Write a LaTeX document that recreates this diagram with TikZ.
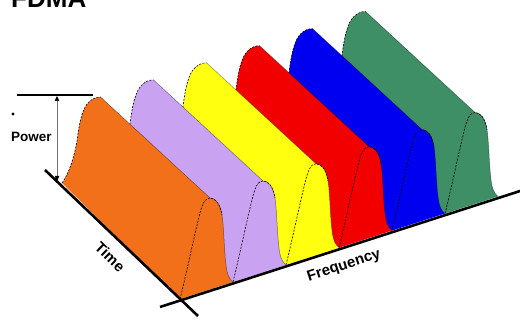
\documentclass[tikz,border=0pt]{standalone}
\usepackage{fontspec}
\setmainfont{Liberation Sans}
\usetikzlibrary{arrows.meta}
\definecolor{cOrange}{HTML}{F2701A}
\definecolor{cPurple}{HTML}{C9A2F2}
\definecolor{cYellow}{HTML}{FFFF10}
\definecolor{cRed}{HTML}{F20000}
\definecolor{cBlue}{HTML}{0000F0}
\definecolor{cGreen}{HTML}{3E8E66}
\tikzset{
  axisline/.style={line width=2.6pt, black},
  bandfill/.style={fill=#1},
  edgeline/.style={draw=black, draw opacity=0.45, line width=0.5pt},
  dashline/.style={draw=black, line width=0.6pt, dash pattern=on 2pt off 1.4pt},
  lbl/.style={inner sep=0pt, font=\bfseries\fontsize{15}{15}\selectfont}
}
% pieces of one band, local coordinates (front base-left at origin, y downwards)
\newcommand\fdmaBackLeft{(-118,-116) .. controls (-112,-124) and (-106,-140) .. (-103,-158) .. controls (-101,-174) and (-98,-191) .. (-91,-197) .. controls (-88,-200) and (-84,-202) .. (-79.5,-202)}
\newcommand\fdmaFrontLeft{(0,0) .. controls (4,-15) and (14,-62) .. (19,-82) .. controls (22,-95) and (25,-101) .. (30,-101)}
\newcommand\fdmaFrontRightTail{.. controls (35,-101) and (40,-96) .. (42,-84) .. controls (44,-70) and (44,-50) .. (46,-34) .. controls (47,-24) and (50,-19) .. (53,-17.1)}
\newcommand\fdmaBand[2]{%
  \begin{scope}[shift={({180+53*#2},{299-17.1*#2})}]
    \fill[bandfill=#1] \fdmaBackLeft -- (30,-101) \fdmaFrontRightTail -- (0,0) -- cycle;
    \path[edgeline] (-79.5,-202) -- (30,-101) \fdmaFrontRightTail;
    \path[dashline] \fdmaBackLeft;
    \path[dashline] \fdmaFrontLeft .. controls (35,-101) and (40,-96) .. (42,-84);
  \end{scope}}
\begin{document}
\begin{tikzpicture}[x=1pt, y=-1pt]
  \useasboundingbox (0,0) rectangle (520,323);
  \clip (0,0) rectangle (520,323);
  \fill[white] (0,0) rectangle (520,323);
  % title (cut off at the top)
  \node[anchor=base west, inner sep=0pt, font=\bfseries\fontsize{26}{26}\selectfont] (title) at (11,8) {FDMA};
  % bands, back to front
  \fdmaBand{cGreen}{5}
  \fdmaBand{cBlue}{4}
  \fdmaBand{cRed}{3}
  \fdmaBand{cYellow}{2}
  \fdmaBand{cPurple}{1}
  \fdmaBand{cOrange}{0}
  % power indicator
  \coordinate (hl) at (17,95);
  \coordinate (hr) at (93,95);
  \draw[line width=1.1pt] (hl) -- (hr);
  \coordinate (ptop) at (57,96);
  \coordinate (pbot) at (57,181);
  \draw[draw=black!55, line width=0.5pt, {Triangle[length=5pt,width=4.5pt,color=black]}-{Triangle[length=5pt,width=4.5pt,color=black]}] (ptop) -- (pbot);
  \fill (13,114) circle (1.7);
  \node[anchor=base west, inner sep=0pt, font=\bfseries\fontsize{13.5}{13.5}\selectfont] (power) at (11,142) {Power};
  % axes
  \coordinate (t0) at (45,170);
  \coordinate (t1) at (198,316);
  \coordinate (f0) at (160,307);
  \coordinate (f1) at (522,190.4);
  \draw[axisline] (t0) -- (t1);
  \draw[axisline] (f0) -- (f1);
  \node[lbl, rotate=-44] (time) at (110,257) {Time};
  \node[lbl, rotate=17.8] (freq) at (344,266) {Frequency};
\end{tikzpicture}
\end{document}
